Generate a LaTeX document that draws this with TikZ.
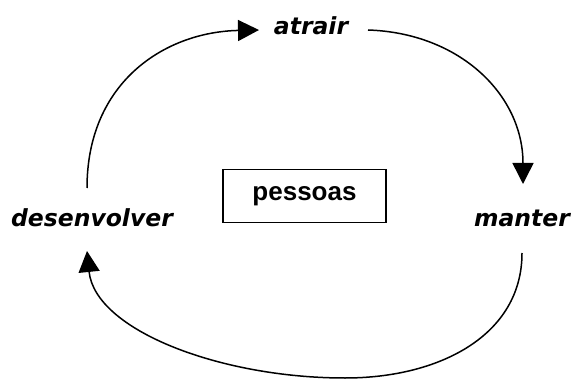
\documentclass[tikz,border=0pt]{standalone}
\usepackage{fontspec}
\newfontfamily\verd{DejaVu Sans}
\newfontfamily\ari{Liberation Sans}
\usetikzlibrary{arrows.meta}
\begin{document}
\begin{tikzpicture}[x=1pt,y=-1pt,
  lbl/.style={font=\verd\bfseries\itshape\fontsize{23.5}{26}\selectfont, inner sep=0pt},
  arc/.style={line width=1.5pt, -{Triangle[length=21pt,width=21pt]}}]
\useasboundingbox (0,0) rectangle (575,379);
\node[lbl] (atrair) at (311,26) {atrair};
\node[lbl] (manter) at (522,218) {manter};
\node[lbl] (desen) at (92,218) {desenvolver};
\node[draw, line width=1.3pt, minimum width=163pt, minimum height=53pt, inner sep=0pt,
  font=\ari\bfseries\fontsize{26}{28}\selectfont] (pessoas) at (304.5,196) {pessoas};
\coordinate (a1) at (87,188);
\coordinate (a2) at (259,30);
\coordinate (b1) at (368,30);
\coordinate (b2) at (523,184);
\coordinate (c1) at (522,253);
\coordinate (c2) at (87,251);
\draw[arc] (a1) .. controls (87,82) and (165,32) .. (a2);
\draw[arc] (b1) .. controls (460,33) and (523,95) .. (b2);
\draw[arc] (c1) .. controls (522,335) and (440,378) .. (345,378) .. controls (220,378) and (95,330) .. (c2);
\end{tikzpicture}
\end{document}
